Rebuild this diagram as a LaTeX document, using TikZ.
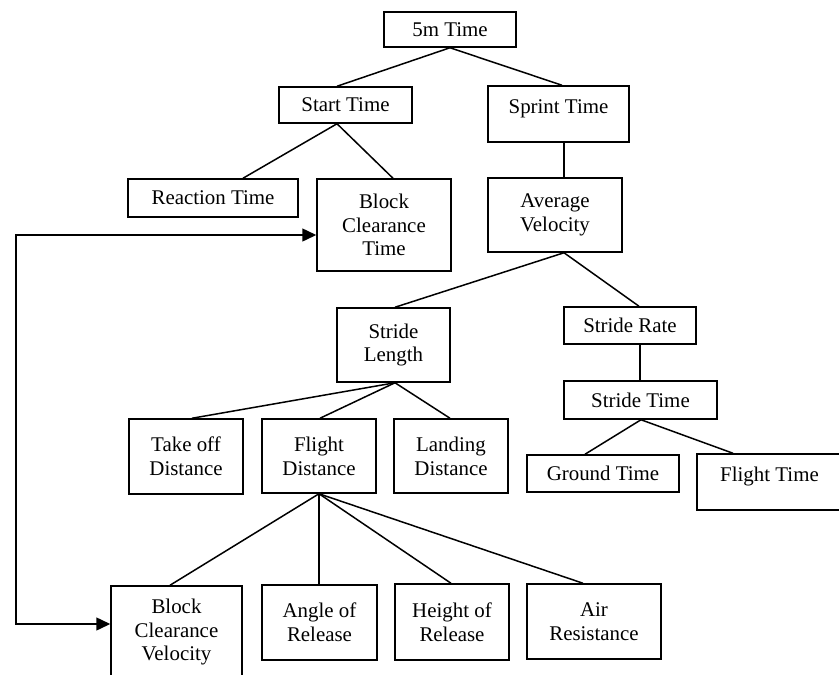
\documentclass[tikz,border=0pt]{standalone}
\usepackage{fontspec}
\setmainfont{Liberation Serif}
\usetikzlibrary{arrows.meta}
\begin{document}
\begin{tikzpicture}[x=1pt,y=-1pt,
  box/.style={draw, line width=1.5pt, inner sep=0pt, align=center,
    font=\fontsize{20.9pt}{23.7pt}\selectfont},
  link/.style={line width=1.5pt},
  arr/.style={line width=1.5pt, {Triangle[length=14pt,width=13pt]}-{Triangle[length=14pt,width=13pt]}}]
\useasboundingbox (0,0) rectangle (839,675);
\node[box, minimum width=132pt, minimum height=35pt] (t5) at (450,29.5) {5m Time};
\node[box, minimum width=133pt, minimum height=36pt] (st) at (345.5,105) {Start Time};
\node[box, minimum width=141pt, minimum height=56pt, text depth=15pt] (sp) at (558.5,114) {Sprint Time};
\node[box, minimum width=170pt, minimum height=38pt] (rt) at (213,198) {Reaction Time};
\node[box, minimum width=134pt, minimum height=92pt] (bct) at (384,225) {Block\\Clearance\\Time};
\node[box, minimum width=134pt, minimum height=74pt] (av) at (555,215) {Average\\Velocity};
\node[box, minimum width=113pt, minimum height=74pt] (sl) at (393.5,345) {Stride\\Length};
\node[box, minimum width=132pt, minimum height=37pt] (sr) at (630,325.5) {Stride Rate};
\node[box, minimum width=153pt, minimum height=38pt] (stt) at (640.5,400) {Stride Time};
\node[box, minimum width=114pt, minimum height=75pt] (tod) at (186,456.5) {Take off\\Distance};
\node[box, minimum width=114pt, minimum height=74pt] (fd) at (319,456) {Flight\\Distance};
\node[box, minimum width=114pt, minimum height=74pt] (ld) at (451,456) {Landing\\Distance};
\node[box, minimum width=152pt, minimum height=37pt] (gt) at (603,473.5) {Ground Time};
\node[box, minimum width=145pt, minimum height=56pt, text depth=15pt] (ft) at (769.5,482) {Flight Time};
\node[box, minimum width=131pt, minimum height=92pt] (bcv) at (176.5,632) {Block\\Clearance\\Velocity};
\node[box, minimum width=115pt, minimum height=75pt] (ar) at (319.5,622.5) {Angle of\\Release};
\node[box, minimum width=114pt, minimum height=76pt] (hr) at (452,622) {Height of\\Release};
\node[box, minimum width=134pt, minimum height=75pt] (air) at (594,621.5) {Air\\Resistance};
% connectors
\draw[link] (t5.south) -- ([xshift=-8.5pt]st.north);
\draw[link] (t5.south) -- ([xshift=3.5pt]sp.north);
\draw[link] ([xshift=-8.5pt]st.south) -- ([xshift=30pt]rt.north);
\draw[link] ([xshift=-8.5pt]st.south) -- ([xshift=9pt]bct.north);
\draw[link] ([xshift=5.5pt]sp.south) -- ([xshift=9pt]av.north);
\draw[link] ([xshift=9pt]av.south) -- ([xshift=1.5pt]sl.north);
\draw[link] ([xshift=9pt]av.south) -- ([xshift=9pt]sr.north);
\draw[link] ([xshift=1.5pt]sl.south) -- ([xshift=6pt]tod.north);
\draw[link] ([xshift=1.5pt]sl.south) -- ([xshift=1pt]fd.north);
\draw[link] ([xshift=1.5pt]sl.south) -- ([xshift=-1pt]ld.north);
\draw[link] ([xshift=10pt]sr.south) -- ([xshift=-0.5pt]stt.north);
\draw[link] ([xshift=0.5pt]stt.south) -- ([xshift=-18pt]gt.north);
\draw[link] ([xshift=0.5pt]stt.south) -- ([xshift=-36.5pt]ft.north);
\draw[link] (fd.south) -- ([xshift=-6.5pt]bcv.north);
\draw[link] (fd.south) -- ([xshift=-0.5pt]ar.north);
\draw[link] (fd.south) -- ([xshift=-1pt]hr.north);
\draw[link] (fd.south) -- ([xshift=-11pt]air.north);
% feedback arrow
\coordinate (c1) at (16,235);
\coordinate (c2) at (16,624);
\draw[arr] ([yshift=-10pt]bct.west) -- (c1) -- (c2) -- ([yshift=8pt]bcv.west);
\end{tikzpicture}
\end{document}
